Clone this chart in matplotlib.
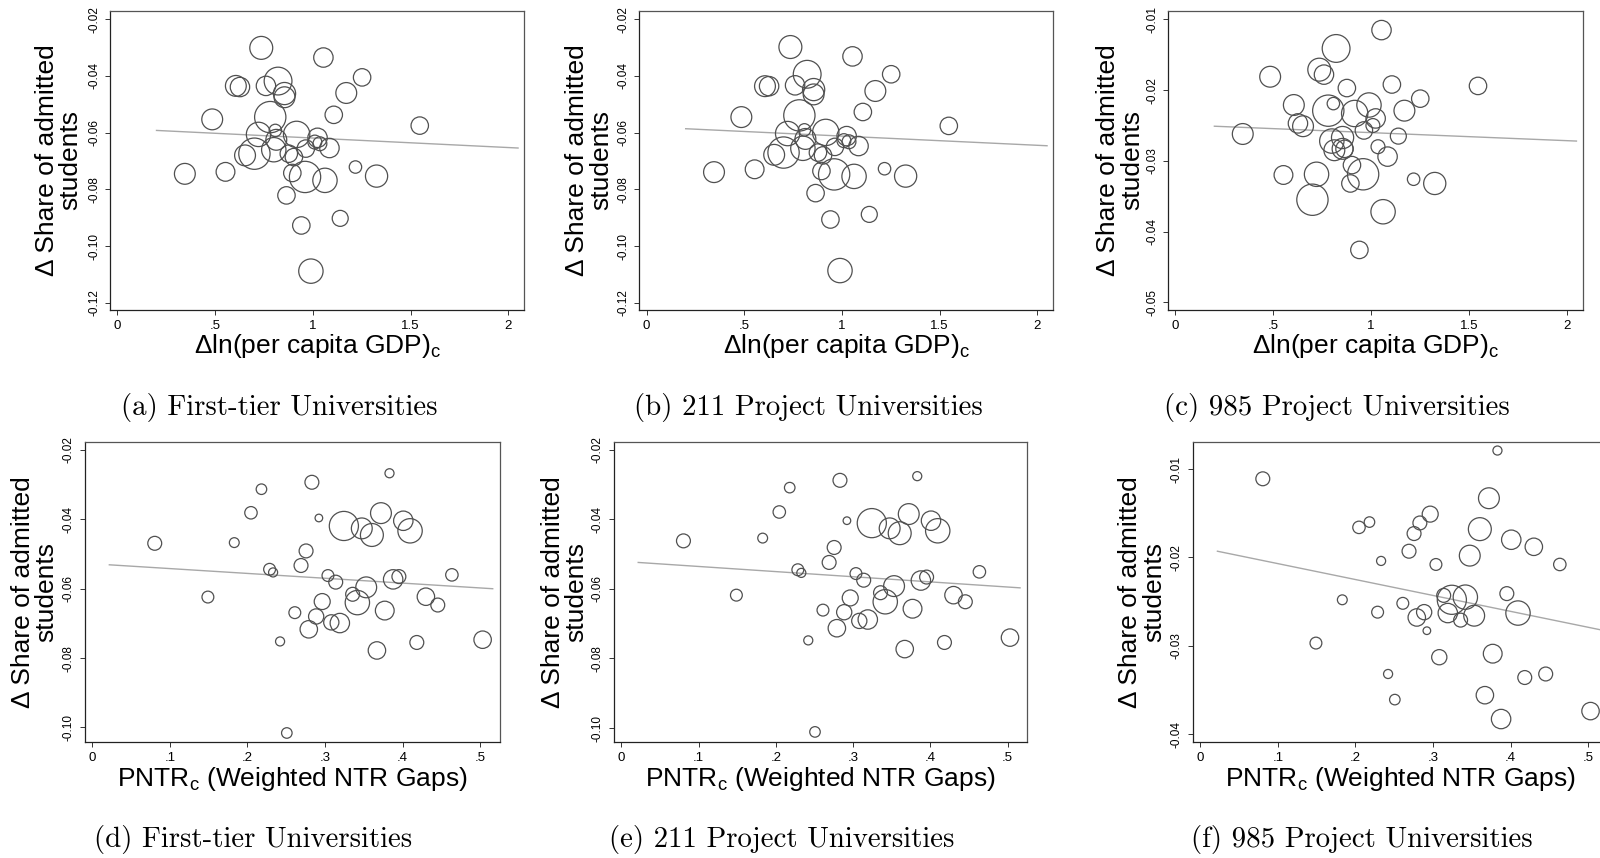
import matplotlib
matplotlib.use("Agg")
import matplotlib.pyplot as plt

plt.rcParams['font.family'] = ['Liberation Sans', 'DejaVu Sans']
plt.rcParams['mathtext.default'] = 'regular'

# top row: change in ln per capita GDP (same provinces in a, b, c)
gdp_x = [0.736, 1.054, 1.252, 0.822, 0.606, 0.627, 0.760, 0.855, 0.855, 1.171,
         1.107, 0.485, 0.782, 1.547, 0.722, 0.808, 0.813, 0.917, 1.024, 1.010,
         1.036, 1.085, 0.964, 0.800, 0.701, 0.653, 0.877, 0.903, 0.345, 0.553,
         0.895, 0.960, 1.062, 1.218, 1.326, 0.865, 1.140, 0.941, 0.990]
w_top = [10.9, 7.8, 6.3, 16.0, 9.0, 7.8, 7.8, 10.2, 9.0, 9.0,
         6.3, 9.0, 20.3, 6.3, 12.3, 3.2, 9.0, 14.4, 7.8, 4.0,
         4.0, 7.8, 6.3, 12.3, 20.3, 9.0, 6.3, 6.3, 9.0, 7.3,
         6.3, 20.3, 12.3, 3.2, 10.2, 6.3, 5.3, 6.3, 12.3]
share_a = [-0.0301, -0.0335, -0.0405, -0.0418, -0.0435, -0.0439, -0.0435, -0.0462, -0.0475, -0.0460,
           -0.0537, -0.0553, -0.0545, -0.0575, -0.0606, -0.0592, -0.0625, -0.0606, -0.0618, -0.0633,
           -0.0639, -0.0654, -0.0656, -0.0660, -0.0674, -0.0680, -0.0674, -0.0686, -0.0745, -0.0738,
           -0.0742, -0.0756, -0.0768, -0.0721, -0.0753, -0.0821, -0.0902, -0.0927, -0.1088]
share_b = [-0.0298, -0.0331, -0.0394, -0.0394, -0.0436, -0.0436, -0.0433, -0.0448, -0.0465, -0.0453,
           -0.0527, -0.0545, -0.0539, -0.0576, -0.0603, -0.0590, -0.0622, -0.0599, -0.0612, -0.0628,
           -0.0632, -0.0647, -0.0650, -0.0655, -0.0670, -0.0678, -0.0670, -0.0680, -0.0739, -0.0729,
           -0.0735, -0.0747, -0.0754, -0.0727, -0.0753, -0.0813, -0.0888, -0.0906, -0.1086]
share_c = [-0.0171, -0.0115, -0.0212, -0.0141, -0.0221, -0.0247, -0.0178, -0.0267, -0.0283, -0.0229,
           -0.0192, -0.0181, -0.0229, -0.0194, -0.0319, -0.0219, -0.0285, -0.0233, -0.0240, -0.0250,
           -0.0280, -0.0294, -0.0257, -0.0272, -0.0355, -0.0251, -0.0197, -0.0306, -0.0262, -0.0320,
           -0.0332, -0.0319, -0.0372, -0.0326, -0.0332, -0.0283, -0.0265, -0.0426, -0.0221]

# bottom row: PNTR exposure (same provinces in d, e, f)
pntr_x = [0.0805, 0.149, 0.183, 0.2045, 0.218, 0.2285, 0.233, 0.242, 0.2507, 0.261,
          0.269, 0.2755, 0.283, 0.279, 0.2885, 0.292, 0.2963, 0.3037, 0.308, 0.3137,
          0.319, 0.3242, 0.3355, 0.3416, 0.3473, 0.353, 0.3603, 0.372, 0.3668, 0.3769,
          0.383, 0.3877, 0.3951, 0.4008, 0.4095, 0.4182, 0.4299, 0.4452, 0.4634, 0.503]
w_bot = [4.0, 2.9, 2.0, 3.2, 2.3, 2.9, 1.7, 1.7, 2.3, 2.9,
         4.0, 4.0, 4.0, 6.3, 4.8, 1.2, 5.3, 2.9, 4.8, 4.0,
         7.8, 17.6, 4.0, 12.3, 9.0, 9.0, 10.9, 9.0, 6.3, 7.3,
         1.7, 7.8, 4.0, 7.8, 12.3, 4.0, 6.3, 4.0, 3.2, 6.3]
share_d = [-0.0469, -0.0624, -0.0467, -0.0381, -0.0313, -0.0544, -0.0553, -0.0752, -0.1016, -0.0669,
           -0.0533, -0.0491, -0.0293, -0.0717, -0.0680, -0.0396, -0.0637, -0.0562, -0.0697, -0.0581,
           -0.0699, -0.0419, -0.0616, -0.0640, -0.0426, -0.0596, -0.0445, -0.0382, -0.0778, -0.0663,
           -0.0267, -0.0573, -0.0565, -0.0404, -0.0433, -0.0755, -0.0623, -0.0647, -0.0560, -0.0747]
share_e = [-0.0462, -0.0618, -0.0454, -0.0379, -0.0309, -0.0545, -0.0554, -0.0748, -0.1011, -0.0661,
           -0.0524, -0.0481, -0.0288, -0.0713, -0.0667, -0.0404, -0.0626, -0.0556, -0.0692, -0.0575,
           -0.0688, -0.0411, -0.0611, -0.0637, -0.0426, -0.0592, -0.0440, -0.0385, -0.0773, -0.0657,
           -0.0276, -0.0576, -0.0566, -0.0404, -0.0433, -0.0754, -0.0618, -0.0637, -0.0551, -0.0740]
share_f = [-0.0111, -0.0297, -0.0248, -0.0166, -0.0160, -0.0262, -0.0204, -0.0332, -0.0361, -0.0252,
           -0.0193, -0.0173, -0.0161, -0.0268, -0.0262, -0.0283, -0.0151, -0.0208, -0.0313, -0.0243,
           -0.0263, -0.0248, -0.0271, -0.0245, -0.0198, -0.0266, -0.0168, -0.0133, -0.0356, -0.0309,
           -0.0079, -0.0383, -0.0241, -0.0180, -0.0263, -0.0336, -0.0188, -0.0332, -0.0208, -0.0374]

# fitted lines (end points)
fit_top_x = [0.2, 2.05]
fit_a_y = [-0.0592, -0.0654]
fit_b_y = [-0.0586, -0.0646]
fit_c_y = [-0.0251, -0.0272]
fit_bot_x = [0.022, 0.516]
fit_d_y = [-0.0531, -0.0600]
fit_e_y = [-0.0524, -0.0597]
fit_f_y = [-0.0193, -0.0282]

top_xticks = [0, 0.5, 1, 1.5, 2]
top_xlabels = ['0', '.5', '1', '1.5', '2']
bot_xticks = [0, 0.1, 0.2, 0.3, 0.4, 0.5]
bot_xlabels = ['0', '.1', '.2', '.3', '.4', '.5']
yticks_ab = [-0.12, -0.10, -0.08, -0.06, -0.04, -0.02]
yticks_c = [-0.05, -0.04, -0.03, -0.02, -0.01]
yticks_de = [-0.10, -0.08, -0.06, -0.04, -0.02]
yticks_f = [-0.04, -0.03, -0.02, -0.01]

captions = ['(a) First-tier Universities', '(b) 211 Project Universities',
            '(c) 985 Project Universities', '(d) First-tier Universities',
            '(e) 211 Project Universities', '(f) 985 Project Universities']

W, H = 1600, 858
fig = plt.figure(figsize=(W / 100, H / 100), dpi=100)


def box(left, right, top, bottom):
    return [left / W, 1 - bottom / H, (right - left) / W, (bottom - top) / H]


def panel(rect, x, y, w, fx, fy, xlim, ylim, xticks, xlabels, yticks, xlabel, ylab_x):
    ax = fig.add_axes(rect)
    ax.plot(fx, fy, color='#a8a8a8', lw=1.0, zorder=1)
    ax.scatter(x, y, s=[v * 25 for v in w], facecolors='none',
               edgecolors='#505050', linewidths=0.9, zorder=2)
    ax.set_xlim(xlim)
    ax.set_ylim(ylim)
    ax.set_xticks(xticks)
    ax.set_xticklabels(xlabels)
    ax.set_yticks(yticks)
    ax.set_yticklabels(['%.2f' % t for t in yticks], rotation=90, va='center')
    ax.tick_params(length=3.5, width=0.7, pad=3.5, color='#333333')
    ax.tick_params(axis='x', labelsize=9.5)
    ax.tick_params(axis='y', labelsize=8.5)
    for s in ['top', 'right']:
        ax.spines[s].set_color('#555555')
    for s in ['left', 'bottom']:
        ax.spines[s].set_color('#222222')
    for s in ax.spines.values():
        s.set_linewidth(0.9)
    ax.set_xlabel(xlabel, fontsize=19, va='center')
    ax.xaxis.set_label_coords(0.5, -0.122)
    ax.set_ylabel('\u0394 Share of admitted\nstudents', fontsize=19, va='center',
                  linespacing=1.0)
    ax.yaxis.set_label_coords(ylab_x, 0.5)
    return ax


gdp_lab = '\u0394ln(per capita GDP)$_c$'
pntr_lab = 'PNTR$_c$ (Weighted NTR Gaps)'

panel(box(110, 524.3, 11, 310), gdp_x, share_a, w_top, fit_top_x, fit_a_y,
      (-0.038, 2.082), (-0.1225, -0.0171), top_xticks, top_xlabels, yticks_ab, gdp_lab, -0.124)
panel(box(639.2, 1053.3, 11, 310), gdp_x, share_b, w_top, fit_top_x, fit_b_y,
      (-0.038, 2.082), (-0.1225, -0.0171), top_xticks, top_xlabels, yticks_ab, gdp_lab, -0.121)
panel(box(1167.8, 1582.7, 11, 310), gdp_x, share_c, w_top, fit_top_x, fit_c_y,
      (-0.038, 2.082), (-0.0511, -0.0088), top_xticks, top_xlabels, yticks_c, gdp_lab, -0.115)
panel(box(84.5, 499.7, 441.7, 742), pntr_x, share_d, w_bot, fit_bot_x, fit_d_y,
      (-0.010, 0.525), (-0.1042, -0.0176), bot_xticks, bot_xlabels, yticks_de, pntr_lab, -0.12)
panel(box(613.5, 1027, 441.7, 742), pntr_x, share_e, w_bot, fit_bot_x, fit_e_y,
      (-0.010, 0.525), (-0.1040, -0.0177), bot_xticks, bot_xlabels, yticks_de, pntr_lab, -0.118)
panel(box(1192.6, 1607.6, 441.7, 742), pntr_x, share_f, w_bot, fit_bot_x, fit_f_y,
      (-0.010, 0.525), (-0.0409, -0.0069), bot_xticks, bot_xlabels, yticks_f, pntr_lab, -0.121)

cap_pos = [(279, 408), (808, 408), (1337, 408), (253, 840), (782, 840), (1362, 840)]
for (cx, cy), text in zip(cap_pos, captions):
    fig.text(cx / W, 1 - cy / H, text, ha='center', va='center', fontsize=20.8,
             family='cmr10')

fig.savefig('out.png', dpi=100)
